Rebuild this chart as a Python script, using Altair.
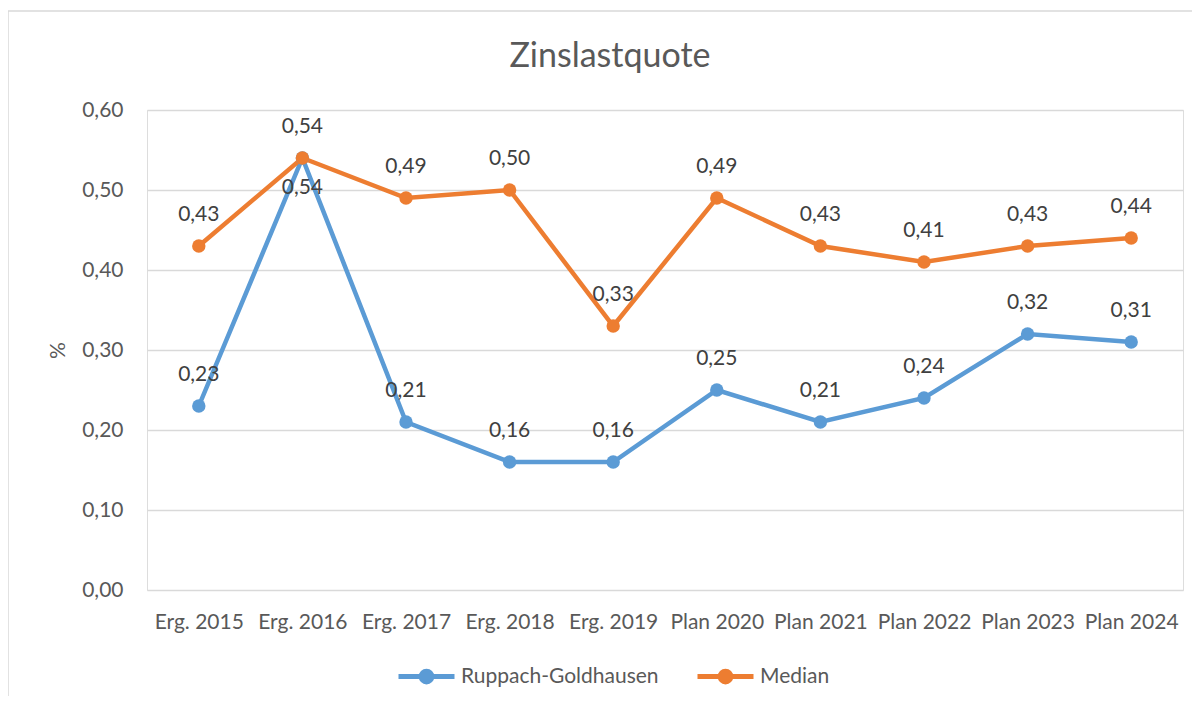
import altair as alt
import pandas as pd

categories = ["Erg. 2015", "Erg. 2016", "Erg. 2017", "Erg. 2018", "Erg. 2019",
              "Plan 2020", "Plan 2021", "Plan 2022", "Plan 2023", "Plan 2024"]
ruppach = [0.23, 0.54, 0.21, 0.16, 0.16, 0.25, 0.21, 0.24, 0.32, 0.31]
median = [0.43, 0.54, 0.49, 0.50, 0.33, 0.49, 0.43, 0.41, 0.43, 0.44]
series_names = ["Ruppach-Goldhausen", "Median"]
series_colors = ["#5B9BD5", "#ED7D31"]
y_ticks = [0.0, 0.1, 0.2, 0.3, 0.4, 0.5, 0.6]

rows = []
for name, vals in zip(series_names, [ruppach, median]):
    for c, v in zip(categories, vals):
        rows.append({"Kategorie": c, "Reihe": name, "Wert": v})
df = pd.DataFrame(rows)

FONT = "Lato"
W, H = 1036, 480

x_enc = alt.X("Kategorie:N", sort=categories,
              scale=alt.Scale(paddingInner=0, paddingOuter=0.5),
              axis=alt.Axis(title=None, labelAngle=0, domain=False, ticks=False,
                            labelPadding=21, labelFontSize=21, labelColor="#595959",
                            labelFont=FONT, grid=False))
y_enc = alt.Y("Wert:Q", scale=alt.Scale(domain=[0, 0.6], nice=False),
              axis=alt.Axis(title="%", values=y_ticks, domain=False, ticks=False,
                            labelPadding=24, labelFontSize=21, labelColor="#595959",
                            labelFont=FONT, gridColor="#D9D9D9", gridWidth=1.3,
                            labelExpr="replace(format(datum.value, '.2f'), '.', ',')",
                            titleFont=FONT, titleFontSize=21, titleColor="#595959",
                            titleFontWeight="normal", titleAngle=-90,
                            titleX=-89, titleY=H / 2, titleBaseline="middle",
                            titleAlign="center"))

legend_path = ("M-1,0L1,0 "
               "M-0.19,0a0.19,0.19 0 1,0 0.38,0a0.19,0.19 0 1,0 -0.38,0 "
               "M-0.06,0a0.06,0.06 0 1,0 0.12,0a0.06,0.06 0 1,0 -0.12,0")

color_enc = alt.Color("Reihe:N", sort=series_names,
                      scale=alt.Scale(domain=series_names, range=series_colors),
                      legend=alt.Legend(title=None, orient="none", direction="horizontal",
                                        legendX=249, legendY=536,
                                        symbolType=legend_path, symbolSize=3136,
                                        symbolStrokeWidth=5, labelFontSize=21,
                                        labelFont=FONT, labelColor="#595959",
                                        labelOffset=4, columnPadding=28,
                                        labelLimit=500, padding=0))

base = alt.Chart(df)

lines = base.mark_line(strokeWidth=4.5).encode(x=x_enc, y=y_enc, color=color_enc,
                                               detail="Reihe:N")
points = base.mark_point(filled=True, size=180, opacity=1).encode(
    x="Kategorie:N", y="Wert:Q", color=alt.Color("Reihe:N", legend=None))

labels_above = base.transform_filter(
    "!(datum.Reihe == 'Ruppach-Goldhausen' && datum.Kategorie == 'Erg. 2016')"
).transform_calculate(
    lab="replace(format(datum.Wert, '.2f'), '.', ',')"
).mark_text(dy=-25, baseline="alphabetic", fontSize=21, font=FONT,
            color="#404040").encode(x="Kategorie:N", y="Wert:Q", text="lab:N")

labels_below = base.transform_filter(
    "datum.Reihe == 'Ruppach-Goldhausen' && datum.Kategorie == 'Erg. 2016'"
).transform_calculate(
    lab="replace(format(datum.Wert, '.2f'), '.', ',')"
).mark_text(dy=36, baseline="alphabetic", fontSize=21, font=FONT,
            color="#404040").encode(x="Kategorie:N", y="Wert:Q", text="lab:N")

border = alt.Chart(alt.Data(values=[{"b": 1}])).mark_rect(
    fill=None, stroke="#D9D9D9", strokeWidth=1.5
).encode(x=alt.value(-139), x2=alt.value(W + 60), y=alt.value(-99), y2=alt.value(H + 160))

chart = alt.layer(border, lines, points, labels_above, labels_below).properties(
    width=W, height=H,
    title=alt.TitleParams("Zinslastquote", fontSize=34, font=FONT, color="#595959",
                          fontWeight="normal", anchor="middle", dx=-55, offset=42,
                          dy=106),
    autosize=alt.AutoSizeParams(type="none"),
    padding={"left": 139, "top": 102, "right": 9, "bottom": 106},
).configure_view(stroke=None).configure(background="white")

chart.save("out.html", embed_options={"renderer": "svg", "actions": False})
